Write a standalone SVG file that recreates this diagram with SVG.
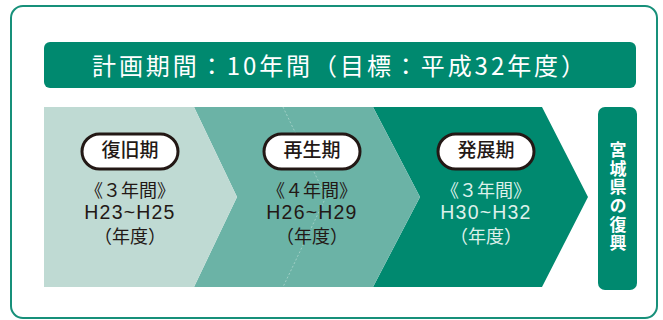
<svg xmlns="http://www.w3.org/2000/svg" width="663" height="320" viewBox="0 0 663 320">
<style>
.t{font-family:"Noto Sans CJK JP","Liberation Sans",sans-serif;text-anchor:middle}
.pill{fill:#fff;stroke:#231815;stroke-width:3}
.pl{font-size:19px;fill:#231815;font-weight:500}
.body{font-family:"Liberation Sans","Noto Sans CJK JP",sans-serif;text-anchor:middle;font-size:18px;fill:#231815}
.num{font-size:19.5px;letter-spacing:1.2px}
.light{fill:#dcf0ea}
</style>
<rect x="11" y="6" width="646" height="312" rx="12" fill="#fff" stroke="#17907a" stroke-width="2"/>
<g id="title">
<rect x="44" y="42" width="592" height="46" rx="6" fill="#00896f"/>
<text class="t" x="92" y="75" font-size="24" fill="#fff" style="text-anchor:start" textLength="493" lengthAdjust="spacing">計画期間：10年間（目標：平成32年度）</text>
</g>
<g id="connectors">
<polygon points="373,107 542,107 588,197 542,287 373,287 420,197" fill="#00896f"/>
<polygon points="194,107 373,107 420,197 373,287 194,287 237,197" fill="#6bb3a6"/>
<polygon points="44,107 194,107 237,197 194,287 44,287" fill="#bfdad3"/>
<polyline points="283,107 326,197 283,287" fill="none" stroke="#d6ece6" stroke-width="0.8" stroke-dasharray="2 2" opacity="0.6"/>
</g>
<g id="phase1">
<rect class="pill" x="82" y="134" width="96" height="35" rx="17.5"/>
<text class="t pl" x="130" y="157">復旧期</text>
<text class="body" x="130" y="197">《３年間》</text>
<text class="body num" x="130" y="219">H23~H25</text>
<text class="body" x="130" y="243">（年度）</text>
</g>
<g id="phase2">
<rect class="pill" x="264" y="134" width="96" height="35" rx="17.5"/>
<text class="t pl" x="312" y="157">再生期</text>
<text class="body" x="312" y="197">《４年間》</text>
<text class="body num" x="312" y="219">H26~H29</text>
<text class="body" x="312" y="243">（年度）</text>
</g>
<g id="phase3">
<rect class="pill" x="438" y="134" width="96" height="35" rx="17.5"/>
<text class="t pl" x="486" y="157">発展期</text>
<text class="body light" x="486" y="197">《３年間》</text>
<text class="body num light" x="486" y="219">H30~H32</text>
<text class="body light" x="486" y="243">（年度）</text>
</g>
<g id="goal">
<rect x="598" y="107" width="39" height="183" rx="7" fill="#00896f"/>
<text x="618" y="141" font-family="'Noto Sans CJK JP',sans-serif" font-size="17" font-weight="bold" fill="#fff" writing-mode="vertical-rl" letter-spacing="1.7">宮城県の復興</text>
</g>
</svg>
